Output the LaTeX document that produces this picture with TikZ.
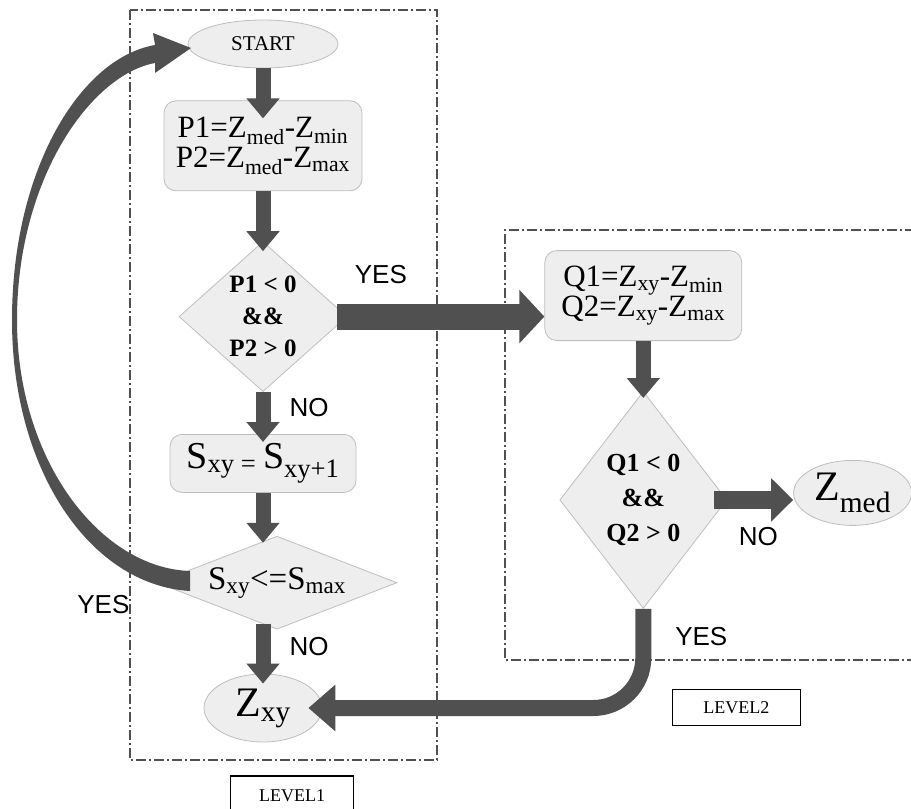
\documentclass[tikz,border=0pt]{standalone}
\usepackage{fontspec}
\setmainfont{Liberation Serif}
\newfontfamily\answerfont{Liberation Sans}
\usetikzlibrary{shapes.geometric,arrows.meta,positioning}
\definecolor{arrowgray}{RGB}{80,80,80}
\definecolor{nodefill}{RGB}{238,238,238}
\definecolor{nodeline}{RGB}{190,190,190}

\begin{document}
\begin{tikzpicture}[
    x=1pt, y=1pt,
    terminal/.style={ellipse, draw=nodeline, fill=nodefill, thick, inner sep=0pt},
    process/.style={rectangle, rounded corners=12pt, draw=nodeline, fill=nodefill, thick, inner sep=4pt, align=center, font=\fontsize{31}{30}\selectfont},
    decision/.style={diamond, draw=nodeline, fill=nodefill, thick, inner sep=0pt, align=center},
    arrow/.style={-{Triangle[width=32pt,length=20pt]}, line width=15pt, draw=arrowgray},
    answer/.style={font=\answerfont\fontsize{26}{26}\selectfont, inner sep=1pt},
    levelframe/.style={draw=arrowgray, line width=1.5pt, dash pattern=on 10pt off 3pt on 2pt off 3pt},
    levelbox/.style={rectangle, draw=black, line width=1.2pt, minimum width=123pt, font=\fontsize{18}{18}\selectfont}
]
    \useasboundingbox (0,0) rectangle (911,-809);

    % Level 1
    \node[terminal, minimum width=150pt, minimum height=48pt, font=\fontsize{21}{21}\selectfont] (start) at (263,-44) {START};
    \node[process, below=32pt of start, minimum width=198pt, minimum height=90pt] (pdiff) {P1=Z\textsubscript{med}-Z\textsubscript{min}\\P2=Z\textsubscript{med}-Z\textsubscript{max}};
    \node[decision, below=50pt of pdiff, minimum width=168pt, minimum height=150pt, aspect=1.12, font=\bfseries\fontsize{25}{32}\selectfont] (pcheck) {P1 < 0\\\&\&\\P2 > 0};
    \node[process, below=42pt of pcheck, minimum width=186pt, minimum height=58pt, font=\fontsize{38}{38}\selectfont] (sinc) {S\textsubscript{xy = }S\textsubscript{xy+1}};
    \node[decision, below=43pt of sinc, xshift=14pt, minimum width=240pt, minimum height=93pt, aspect=2.58, font=\fontsize{33}{33}\selectfont] (scheck) {S\textsubscript{xy}<=S\textsubscript{max}};
    \node[terminal, below=44pt of scheck, xshift=-14pt, minimum width=118pt, minimum height=68pt, font=\fontsize{42}{42}\selectfont] (zxy) {Z\textsubscript{xy}};

    % Level 2
    \node[process, right=197pt of pcheck, yshift=21pt, minimum width=197pt, minimum height=90pt] (qdiff) {Q1=Z\textsubscript{xy}-Z\textsubscript{min}\\Q2=Z\textsubscript{xy}-Z\textsubscript{max}};
    \node[decision, below=50pt of qdiff, minimum width=167pt, minimum height=217pt, aspect=0.77, font=\bfseries\fontsize{26}{35}\selectfont] (qcheck) {Q1 < 0\\\&\&\\Q2 > 0};
    \node[terminal, right=66pt of qcheck, yshift=7pt, minimum width=118pt, minimum height=65pt, font=\fontsize{42}{42}\selectfont] (zmed) {Z\textsubscript{med}};

    % Level labels
    \node[levelbox, minimum height=40pt, below=33pt of zxy, xshift=29pt] (lvlone) {LEVEL1};
    \node[levelbox, minimum width=128pt, minimum height=36pt, below=80pt of qcheck, xshift=93pt] (lvltwo) {LEVEL2};

    % Arrows
    \draw[arrow] (start.south) -- ([yshift=-18pt]pdiff.north);
    \draw[arrow] (pdiff.south) -- ([yshift=-10pt]pcheck.north);
    \draw[arrow] (pcheck.south) -- node[answer, pos=0.32, right=18pt] {NO} ([yshift=-8pt]sinc.north);
    \draw[arrow] (sinc.south) -- ([yshift=-7pt]sinc.south |- scheck.north);
    \draw[arrow] ([yshift=6pt]scheck.south -| zxy.north) -- node[answer, pos=0.38, right=18pt] {NO} ([yshift=-10pt]zxy.north);
    \draw[arrow, line width=26pt, -{Triangle[width=52pt,length=25pt]}] ([xshift=-10pt]pcheck.east) -- node[answer, pos=0.21, above=19pt] {YES} (pcheck.east -| qdiff.west);
    \draw[arrow] (qdiff.south) -- ([yshift=-7pt]qcheck.north);
    \draw[arrow, line width=18pt, -{Triangle[width=42pt,length=22pt]}] ([xshift=-13pt]qcheck.east) -- node[answer, pos=0.56, below=17pt] {NO} (qcheck.east -| zmed.west);
    \draw[arrow, line width=16pt, -{Triangle[width=45pt,length=27pt]}, rounded corners=50pt] (qcheck.south) -- node[answer, pos=0.28, right=23pt] {YES} (qcheck.south |- zxy.east) -- ([xshift=-14pt]zxy.east);

    % Loop back to start
    \fill[arrowgray] (190,-571) .. controls (100,-568) and (17,-460) .. (17,-320)
        .. controls (17,-180) and (90,-75) .. (155,-63)
        -- (155,-73) -- (191,-48) -- (153,-33) -- (155,-45)
        .. controls (80,-58) and (12,-170) .. (12,-320)
        .. controls (12,-470) and (90,-585) .. (190,-591) -- cycle;
    \node[answer, below left=11pt and 26pt of scheck.west] (loopyes) {YES};

    % Level frames
    \draw[levelframe] (130,-10) rectangle (437,-760);
    \draw[levelframe] (915,-230) -- (505,-230) -- (505,-660) -- (915,-660);
\end{tikzpicture}
\end{document}
